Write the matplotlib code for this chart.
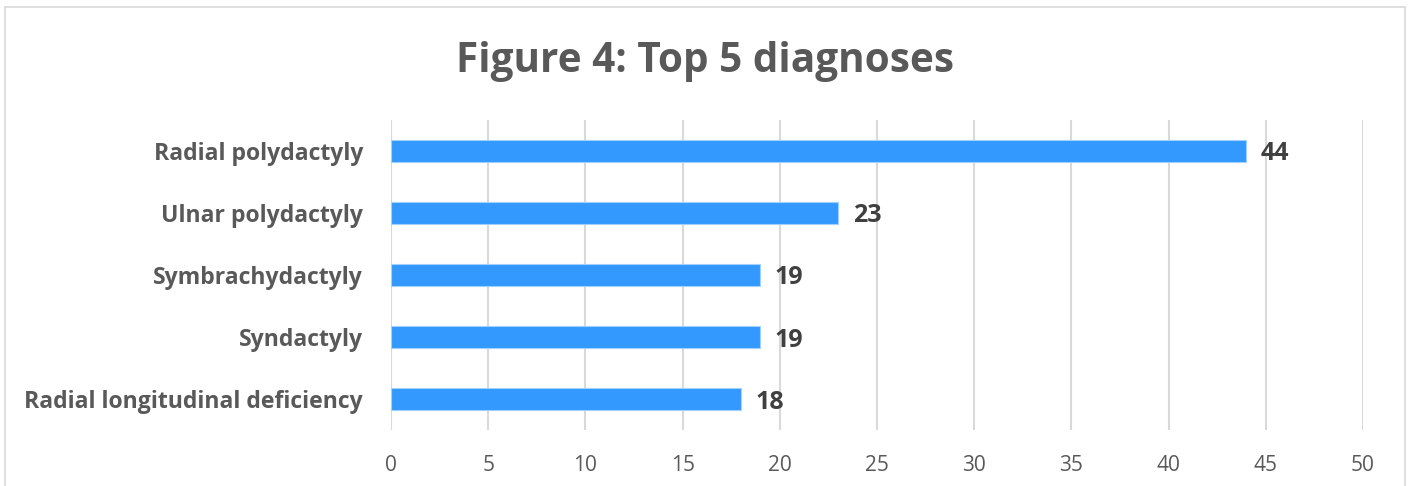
import matplotlib.pyplot as plt
from matplotlib.patches import Rectangle

# data
diagnoses = ["Radial polydactyly", "Ulnar polydactyly", "Symbrachydactyly",
             "Syndactyly", "Radial longitudinal deficiency"]
counts = [44, 23, 19, 19, 18]
x_ticks = [0, 5, 10, 15, 20, 25, 30, 35, 40, 45, 50]

plt.rcParams['font.family'] = ['Open Sans', 'DejaVu Sans']

W, H = 1408, 486
fig = plt.figure(figsize=(W / 100, H / 100), dpi=100)

# outer chart frame (bottom edge runs off the image)
fig.patches.append(Rectangle((5 / W, -0.05), 1400 / W, 1.05 - 7 / H, transform=fig.transFigure,
                             fill=False, edgecolor="#d9d9d9", linewidth=1.2))

ax = fig.add_axes([391 / W, 1 - 430 / H, (1363 - 391) / W, (430 - 120) / H])

y = list(range(len(diagnoses)))
ax.barh(y, counts, height=0.36, color="#3399ff", edgecolor="#9fd0ff", linewidth=0.8, zorder=3)
ax.set_ylim(len(diagnoses) - 0.5, -0.5)
ax.set_xlim(0, 50)

for yi, c in zip(y, counts):
    ax.text(c + 0.75, yi, str(c), va="center_baseline", ha="left", fontsize=18, fontweight="bold",
            color="#404040")

ax.set_xticks(x_ticks)
ax.set_yticks(y)
ax.set_yticklabels(diagnoses, fontsize=16.6, fontweight="bold", color="#595959")
ax.tick_params(axis="x", labelsize=15, labelcolor="#595959", length=0, pad=18)
ax.tick_params(axis="y", length=0, pad=20)
ax.grid(axis="x", color="#d9d9d9", linewidth=1.5, zorder=0)
for s in ax.spines.values():
    s.set_visible(False)

fig.text(705 / W, 1 - 62 / H, "Figure 4: Top 5 diagnoses", ha="center", va="center",
         fontsize=29.2, fontweight="bold", color="#595959")

fig.savefig("out.png", dpi=100)
